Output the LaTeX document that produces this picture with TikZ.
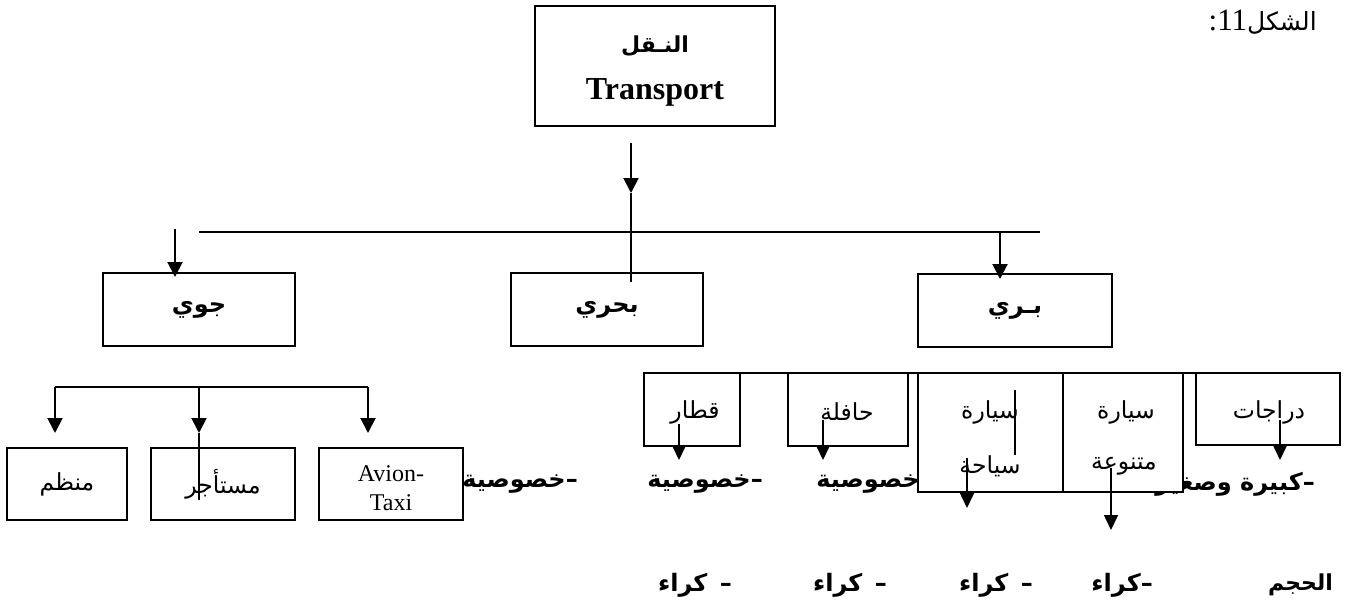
\documentclass[tikz,border=0pt]{standalone}
\usepackage{fontspec}
\setmainfont{Liberation Serif}
\newfontfamily\arabicfont[Script=Arabic]{DejaVu Sans}
\TeXXeTstate=1
\usetikzlibrary{arrows.meta}
\newcommand{\artext}[1]{{\arabicfont\beginR #1\endR}}
\newcommand{\arbold}[1]{{\arabicfont\bfseries\beginR #1\endR}}
\begin{document}
\begin{tikzpicture}[x=1pt,y=-1pt,
  thickbox/.style={draw, line width=2pt, fill=white, inner sep=0pt},
  thinbox/.style={draw, line width=1.4pt, fill=white, inner sep=0pt},
  wire/.style={line width=2pt},
  thinwire/.style={line width=1.6pt},
  arr/.style={line width=2pt, -{Triangle[width=15pt,length=15pt]}},
  thinarr/.style={line width=1.6pt, -{Triangle[width=14pt,length=15pt]}},
  lbl/.style={inner sep=0pt},
  arfont/.style={font=\fontsize{23.5}{28}\selectfont},
  arbfont/.style={font=\fontsize{24}{28}\selectfont},
  rowfont/.style={font=\fontsize{24}{28}\selectfont},
]
\useasboundingbox (0,0) rectangle (1349,605);

% caption
\node[lbl, anchor=east, font=\fontsize{31}{36}\selectfont] (caption) at (1317,22)
  {\beginR{\arabicfont\fontsize{25}{30}\selectfont الشكل}\beginL 11\endL:\endR};

% rows of properties set behind the land boxes
\node[lbl, anchor=east, rowfont] (p1) at (578,484) {\arbold{–خصوصية}};
\node[lbl, anchor=east, rowfont] (p2) at (763,484) {\arbold{–خصوصية}};
\node[lbl, anchor=east, rowfont] (p3) at (932,484) {\arbold{–خصوصية}};
\node[lbl, anchor=east, rowfont] (p4) at (1116,484) {\arbold{–خصوصية}};
\node[lbl, anchor=east, rowfont] (p5) at (1315,484) {\arbold{–كبيرة وصغيرة}};

\node[lbl, anchor=east, rowfont] (k1) at (732,585) {\arbold{–\, كراء}};
\node[lbl, anchor=east, rowfont] (k2) at (887,585) {\arbold{–\, كراء}};
\node[lbl, anchor=east, rowfont] (k3) at (1033,585) {\arbold{–\, كراء}};
\node[lbl, anchor=east, rowfont] (k4) at (1153,585) {\arbold{–كراء}};
\node[lbl, anchor=east, font=\fontsize{22}{26}\selectfont] (k5) at (1333,585) {\arbold{الحجم}};

% root
\node[thickbox, minimum width=240pt, minimum height=120pt] (root) at (655,66) {};
\node[lbl, font=\fontsize{22}{26}\selectfont] (rootar) at (655,46) {\arbold{النـقل}};
\node[lbl, font=\fontsize{32}{38}\selectfont\bfseries] (rooten) at (655,92) {Transport};

% three branches
\node[thickbox, minimum width=192pt, minimum height=73pt, arbfont] (air) at (199,309.5) {\arbold{جوي}};
\node[thickbox, minimum width=192pt, minimum height=73pt, arbfont] (sea) at (607,309.5) {\arbold{بحري}};
\node[thickbox, minimum width=194pt, minimum height=73pt, arbfont] (land) at (1015,310.5) {\arbold{بـري}};

% air transport kinds
\node[thickbox, minimum width=120pt, minimum height=72pt, arfont] (reg) at (67,484) {\artext{منظم}};
\node[thickbox, minimum width=144pt, minimum height=72pt, arfont] (charter) at (223,484) {\artext{مستأجر}};
\node[thickbox, minimum width=144pt, minimum height=72pt] (taxi) at (391,484) {};
\node[lbl, align=center, font=\fontsize{24}{29}\selectfont] (taxitxt) at (391,488) {Avion-\\Taxi};

% land transport kinds
\node[thinbox, minimum width=96pt, minimum height=73pt] (train) at (692,409.5) {};
\node[lbl, arfont] (traintxt) at (695,412) {\artext{قطار}};
\node[thinbox, minimum width=120pt, minimum height=73pt] (bus) at (848,409.5) {};
\node[lbl, arfont] (bustxt) at (847,412) {\artext{حافلة}};
\node[thinbox, minimum width=145pt, minimum height=119pt] (tour) at (990.5,432.5) {};
\node[lbl, arfont] (tourtxt1) at (990,412) {\artext{سيارة}};
\node[lbl, arfont] (tourtxt2) at (990,466) {\artext{سياحة}};
\node[thinbox, minimum width=120pt, minimum height=119pt] (misc) at (1123,432.5) {};
\node[lbl, arfont] (misctxt1) at (1126,412) {\artext{سيارة}};
\node[lbl, arfont] (misctxt2) at (1124,466) {\artext{متنوعة}};
\node[thinbox, minimum width=144pt, minimum height=72pt] (bike) at (1268,409) {};
\node[lbl, arfont] (biketxt) at (1269,412) {\artext{دراجات}};

% root to the three branches
\coordinate (r0) at (631,143);
\coordinate (r1) at (631,193);
\coordinate (r2) at (631,282);
\draw[arr] (r0) -- (r1);
\draw[wire] (r1) -- (r2);
\coordinate (busL) at (199,232);
\coordinate (busR) at (1040,232);
\draw[wire] (busL) -- (busR);
\coordinate (a0) at (175,229);
\coordinate (a1) at (175,277);
\draw[arr] (a0) -- (a1);
\coordinate (l0) at (1000,232);
\coordinate (l1) at (1000,279);
\draw[arr] (l0) -- (l1);

% air subtree
\coordinate (ab1) at (55,387);
\coordinate (ab2) at (199,387);
\coordinate (ab3) at (368,387);
\coordinate (at1) at (55,433);
\coordinate (at2) at (199,433);
\coordinate (at3) at (368,433);
\coordinate (ae2) at (199,500);
\draw[wire] (ab1) -- (ab3);
\draw[arr] (ab1) -- (at1);
\draw[arr] (ab2) -- (at2);
\draw[arr] (ab3) -- (at3);
\draw[wire] (at2) -- (ae2);

% land subtree
\coordinate (lb1) at (643,373);
\coordinate (lb2) at (1292,373);
\draw[thinwire] (lb1) -- (lb2);
\coordinate (q0) at (679,424);
\coordinate (q1) at (679,460);
\draw[thinarr] (q0) -- (q1);
\coordinate (h0) at (823,420);
\coordinate (h1) at (823,460);
\draw[thinarr] (h0) -- (h1);
\coordinate (s0) at (1015,390);
\coordinate (s1) at (1015,455);
\draw[thinwire] (s0) -- (s1);
\coordinate (s2) at (967,458);
\coordinate (s3) at (967,508);
\draw[thinarr] (s2) -- (s3);
\coordinate (m0) at (1111,468);
\coordinate (m1) at (1111,530);
\draw[thinarr] (m0) -- (m1);
\coordinate (d0) at (1280,420);
\coordinate (d1) at (1280,460);
\draw[thinarr] (d0) -- (d1);
\end{tikzpicture}
\end{document}
